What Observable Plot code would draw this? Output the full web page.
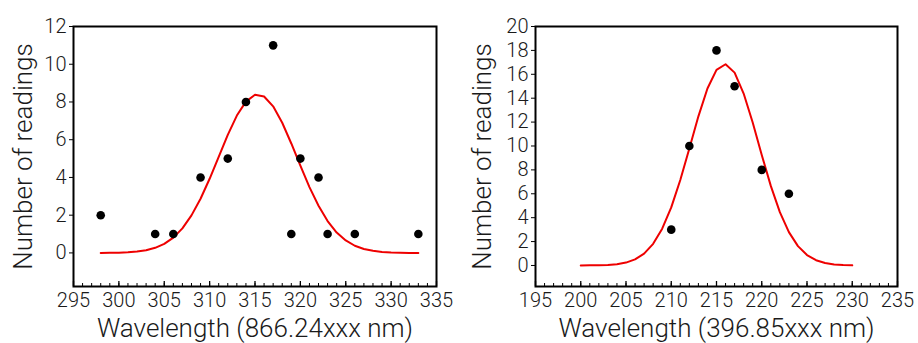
<!DOCTYPE html>
<html><head><meta charset="utf-8">
<script src="https://cdn.jsdelivr.net/npm/d3@7"></script>
<script src="https://cdn.jsdelivr.net/npm/@observablehq/plot@0.6"></script>
<style>
html,body{margin:0;padding:0;background:#fff;}
#wrap{display:flex;width:918px;height:343px;overflow:hidden;}
svg{display:block;}
</style></head><body><div id="wrap"></div>
<script>
// Left panel (866.24xxx nm)
const leftPointsX = [298,304,306,309,312,314,317,319,320,322,323,326,333];
const leftPointsY = [2,1,1,4,5,8,11,1,5,4,1,1,1];
const leftFitX = [298,299,300,301,302,303,304,305,306,307,308,309,310,311,312,313,314,315,316,317,318,319,320,321,322,323,324,325,326,327,328,329,330,331,332,333];
const leftFitY = [0.00,0.01,0.01,0.03,0.07,0.14,0.27,0.48,0.81,1.30,1.99,2.87,3.93,5.09,6.26,7.28,8.02,8.38,8.29,7.77,6.90,5.80,4.62,3.49,2.50,1.69,1.08,0.66,0.38,0.21,0.11,0.05,0.02,0.01,0.00,0.00];
const leftXTicks = [295,300,305,310,315,320,325,330,335];
const leftYTicks = [0,2,4,6,8,10,12];
const leftXLabel = "Wavelength (866.24xxx nm)";

// Right panel (396.85xxx nm)
const rightPointsX = [210,212,215,217,220,223];
const rightPointsY = [3,10,18,15,8,6];
const rightFitX = [200,201,202,203,204,205,206,207,208,209,210,211,212,213,214,215,216,217,218,219,220,221,222,223,224,225,226,227,228,229,230];
const rightFitY = [0.00,0.01,0.02,0.04,0.11,0.24,0.51,0.99,1.81,3.08,4.86,7.15,9.79,12.48,14.81,16.37,16.84,16.14,14.39,11.96,9.25,6.66,4.46,2.79,1.62,0.87,0.44,0.21,0.09,0.04,0.01];
const rightXTicks = [195,200,205,210,215,220,225,230,235];
const rightYTicks = [0,2,4,6,8,10,12,14,16,18,20];
const rightXLabel = "Wavelength (396.85xxx nm)";

const yLabel = "Number of readings";

const FONT = "Roboto, 'Liberation Sans', sans-serif";
const TXT = "#1a1a1a";

function panel({px, py, fx, fy, xTicks, yTicks, xDomain, yDomain, xLabel, marginLeft, marginRight}) {
  const pts = px.map((x, i) => ({x, y: py[i]}));
  const fit = fx.map((x, i) => ({x, y: fy[i]}));
  const minor = d3.range(xDomain[0], xDomain[1] + 1);
  return Plot.plot({
    width: 459, height: 343,
    marginLeft, marginRight, marginTop: 26, marginBottom: 57,
    style: {fontFamily: FONT, fontWeight: 300, color: TXT, background: "#fff", overflow: "visible"},
    x: {domain: xDomain},
    y: {domain: yDomain},
    marks: [
      Plot.tickX(minor, {x: d => d, stroke: "#000", strokeWidth: 1, insetTop: 257}),
      Plot.tickX(xTicks, {x: d => d, stroke: "#000", strokeWidth: 1.3, insetTop: 255}),
      Plot.axisX({ticks: xTicks, tickSize: 0, tickPadding: 6, fontSize: 20, label: null, fill: TXT}),
      Plot.axisY({ticks: yTicks, tickSize: 4, tickPadding: 3, fontSize: 20, label: null, stroke: "#000", fill: TXT}),
      Plot.frame({stroke: "#000", strokeWidth: 2}),
      Plot.line(fit, {x: "x", y: "y", stroke: "#ee0000", strokeWidth: 2}),
      Plot.dot(pts, {x: "x", y: "y", r: 4.3, fill: "#000", stroke: "none"}),
      Plot.text([xLabel], {text: d => d, frameAnchor: "bottom", textAnchor: "middle", dy: 32, lineAnchor: "top", fontSize: 26, fill: TXT, fontWeight: 300}),
      Plot.text([yLabel], {text: d => d, frameAnchor: "left", textAnchor: "middle", rotate: -90, dx: -(marginLeft - 13), lineAnchor: "top", fontSize: 26, fill: TXT, fontWeight: 300})
    ]
  });
}

const wrap = document.getElementById("wrap");
wrap.appendChild(panel({
  px: leftPointsX, py: leftPointsY, fx: leftFitX, fy: leftFitY,
  xTicks: leftXTicks, yTicks: leftYTicks, xDomain: [295, 335], yDomain: [-1.78, 12],
  xLabel: leftXLabel, marginLeft: 73, marginRight: 23
}));
wrap.appendChild(panel({
  px: rightPointsX, py: rightPointsY, fx: rightFitX, fy: rightFitY,
  xTicks: rightXTicks, yTicks: rightYTicks, xDomain: [195, 235], yDomain: [-1.76, 20],
  xLabel: rightXLabel, marginLeft: 76, marginRight: 21
}));
</script></body></html>
